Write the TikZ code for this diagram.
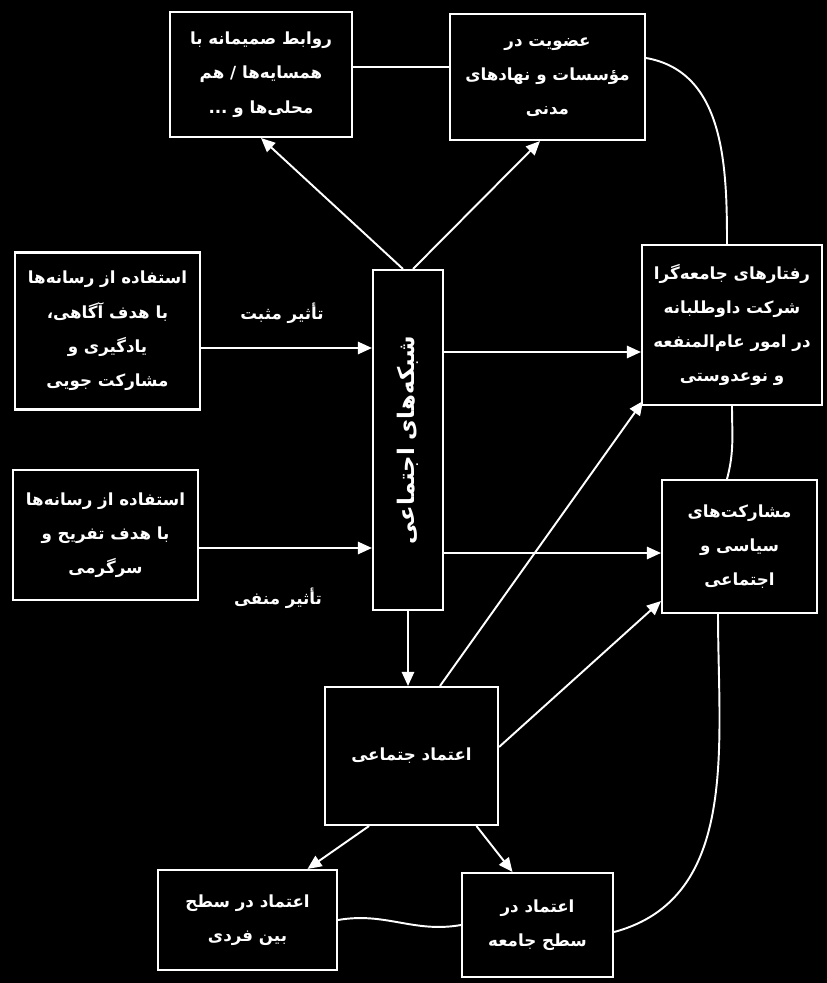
\documentclass[tikz,border=0pt]{standalone}
\usepackage{fontspec}
\newfontfamily\fafont[Script=Arabic]{DejaVu Sans}
\TeXXeTstate=1
\usetikzlibrary{positioning,arrows.meta}
\newcommand{\fa}[1]{\beginR #1\endR}

\begin{document}
\begin{tikzpicture}[>={Triangle[length=8pt,width=7pt]}, x=0.02cm, y=-0.02cm,
    box/.style={draw=white, line width=1.2pt, fill=black, text=white, align=center,
        font=\fafont\bfseries\fontsize{9.5}{19.5}\selectfont},
    link/.style={draw=white, line width=1.1pt},
    lbl/.style={text=white, font=\fafont\bfseries\fontsize{9.5}{12}\selectfont}]
        % background
        \useasboundingbox[fill=black] (0,0) rectangle (827,983);

        % boxes
        \node[box, minimum width=3.64cm, minimum height=2.5cm] (ravabet) at (261,74.5)
            {\fa{روابط صمیمانه با}\\ \fa{همسایه‌ها / هم}\\ \fa{محلی‌ها و ...}};
        \node[box, minimum width=3.9cm, minimum height=2.52cm] (ozviyat) at (547.5,77)
            {\fa{عضویت در}\\ \fa{مؤسسات و نهادهای}\\ \fa{مدنی}};
        \node[box, minimum width=3.7cm, minimum height=3.14cm] (agahi) at (107.5,331)
            {\fa{استفاده از رسانه‌ها}\\ \fa{با هدف آگاهی،}\\ \fa{یادگیری و}\\ \fa{مشارکت جویی}};
        \node[box, minimum width=3.7cm, minimum height=2.6cm] (tafrih) at (105.5,535)
            {\fa{استفاده از رسانه‌ها}\\ \fa{با هدف تفریح و}\\ \fa{سرگرمی}};
        \node[box, minimum width=1.4cm, minimum height=6.8cm] (shabakeh) at (408,440) {};
        \node[text=white, rotate=90, font=\fafont\bfseries\fontsize{13}{15}\selectfont]
            (shabakehtxt) at (shabakeh.center) {\fa{شبکه‌های اجتماعی}};
        \node[box, minimum width=3.6cm, minimum height=3.2cm] (raftar) at (732,325)
            {\fa{رفتارهای جامعه‌گرا}\\ \fa{شرکت داوطلبانه}\\ \fa{در امور عام‌المنفعه}\\ \fa{و نوعدوستی}};
        \node[box, minimum width=3.1cm, minimum height=2.66cm] (mosharekat) at (739.5,546.5)
            {\fa{مشارکت‌های}\\ \fa{سیاسی و}\\ \fa{اجتماعی}};
        \node[box, minimum width=3.46cm, minimum height=2.76cm] (etemad) at (411.5,756)
            {\fa{اعتماد جتماعی}};
        \node[box, minimum width=3.58cm, minimum height=2.0cm] (fardi) at (247.5,920)
            {\fa{اعتماد در سطح}\\ \fa{بین فردی}};
        \node[box, minimum width=3.02cm, minimum height=2.08cm] (jameh) at (537.5,925)
            {\fa{اعتماد در}\\ \fa{سطح جامعه}};

        % labels
        \node[lbl] (mosbat) at (282,313) {\fa{تأثیر مثبت}};
        \node[lbl] (manfi) at (278,598) {\fa{تأثیر منفی}};

        % plain links
        \draw[link] ([yshift=0.15cm]ravabet.east) -- ([yshift=0.15cm]ravabet.east -| ozviyat.west);
        \draw[link] ([yshift=0.38cm]ozviyat.east) to[out=-10,in=90] ([xshift=-0.1cm]raftar.north);
        \draw[link] (raftar.south) to[out=-90,in=75] ([xshift=-0.25cm]mosharekat.north);
        \draw[link] ([xshift=-0.43cm]mosharekat.south) to[out=-90,in=15] ([yshift=-0.14cm]jameh.east);
        \draw[link] (fardi.east) to[out=10,in=190] (jameh.west);

        % arrows
        \draw[link,->] ([xshift=-0.1cm]shabakeh.north) -- (ravabet.south);
        \draw[link,->] ([xshift=0.1cm]shabakeh.north) -- ([xshift=-0.15cm]ozviyat.south);
        \draw[link,->] ([yshift=-0.34cm]agahi.east) -- ([yshift=-0.34cm]agahi.east -| shabakeh.west);
        \draw[link,->] ([yshift=-0.26cm]tafrih.east) -- ([yshift=-0.26cm]tafrih.east -| shabakeh.west);
        \draw[link,->] (shabakeh.east |- 0,352) -- (raftar.west |- 0,352);
        \draw[link,->] (shabakeh.east |- 0,553) -- (mosharekat.west |- 0,553);
        \draw[link,->] (shabakeh.south) -- (shabakeh.south |- etemad.north);
        \draw[link,->] ([xshift=0.57cm]etemad.north) -- ([xshift=0.04cm,yshift=0.1cm]raftar.south west);
        \draw[link,->] ([yshift=0.18cm]etemad.east) -- ([yshift=0.26cm]mosharekat.south west);
        \draw[link,->] ([xshift=-0.85cm]etemad.south) -- ([xshift=1.2cm]fardi.north);
        \draw[link,->] ([xshift=1.3cm]etemad.south) -- ([xshift=-0.5cm]jameh.north);
\end{tikzpicture}
\end{document}
